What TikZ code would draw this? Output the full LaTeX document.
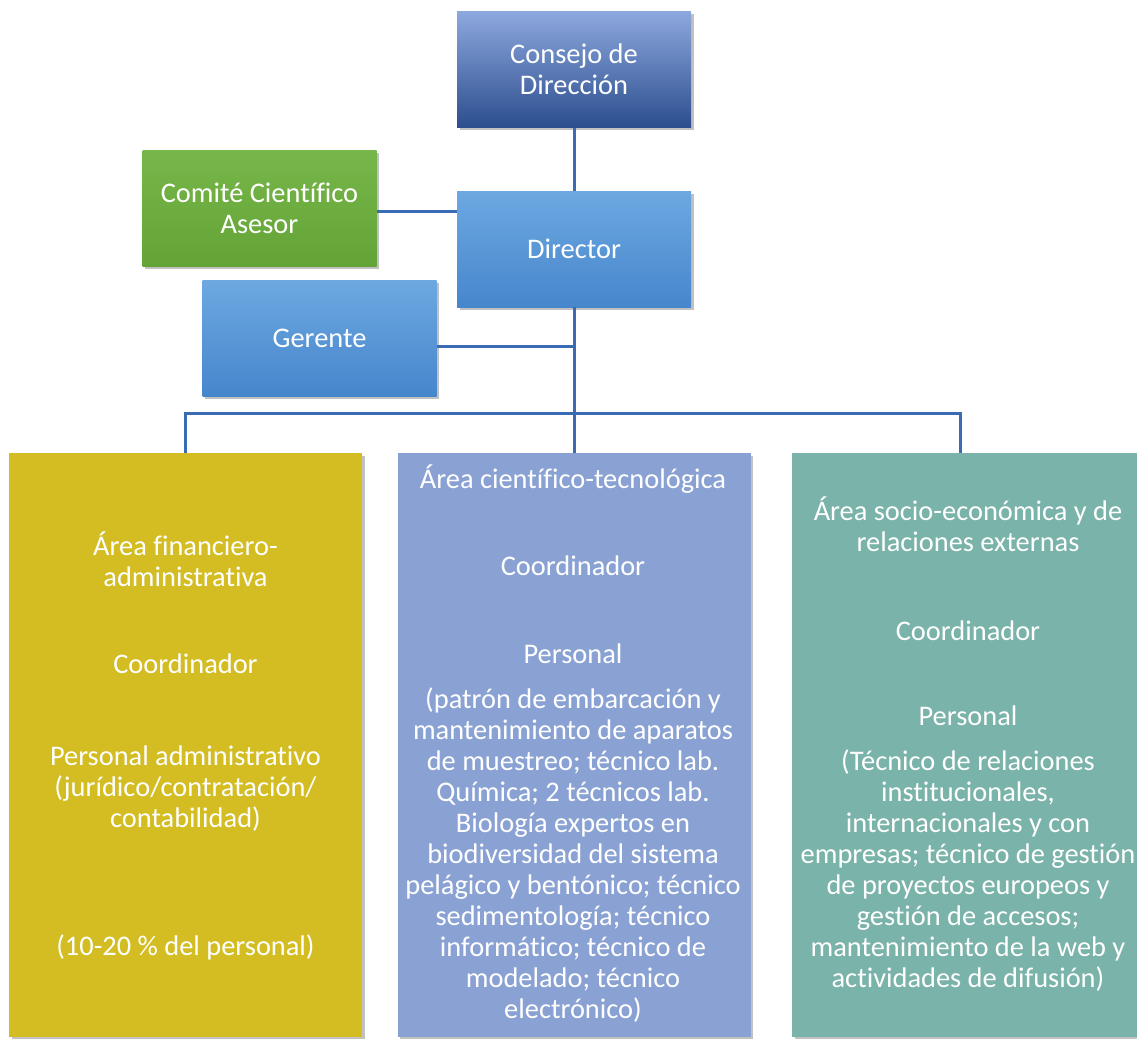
\documentclass[tikz,border=0pt]{standalone}
\usepackage{fontspec}
\setmainfont{Carlito}[Ligatures=NoCommon]
\usetikzlibrary{positioning,shadows}

\definecolor{linkblue}{HTML}{3A6BB3}
\definecolor{cdtop}{HTML}{8DA8DE}
\definecolor{cdbot}{HTML}{2C4E8E}
\definecolor{bltop}{HTML}{6DA8E1}
\definecolor{blbot}{HTML}{4686CC}
\definecolor{grtop}{HTML}{77B64A}
\definecolor{grbot}{HTML}{64A436}
\definecolor{goldcol}{HTML}{D3BD22}
\definecolor{lilacol}{HTML}{8AA2D3}
\definecolor{tealcol}{HTML}{7AB3A9}

\newcommand{\boxfont}{\fontsize{14.2}{15.5}\selectfont}

\tikzset{
  shade box/.style={drop shadow={shadow xshift=1.3pt, shadow yshift=-1.3pt, opacity=.35, fill=black!70}},
  topbox/.style={rectangle, minimum width=117pt, minimum height=58pt, inner sep=0pt,
    align=center, text=white, font=\boxfont, shade box},
  areabox/.style={rectangle, anchor=north, minimum width=176.5pt, minimum height=292pt,
    inner sep=0pt, fill=#1, shade box},
  % base = baseline of the last line
  txt/.style={anchor=base, align=center, inner sep=0pt, text=white, font=\boxfont},
  link/.style={draw=linkblue, line width=1.5pt}
}

\begin{document}
\begin{tikzpicture}[x=0.5pt,y=-0.5pt]
\useasboundingbox (0,0) rectangle (1137,1039);

% upper part of the chart
\node[topbox, top color=cdtop, bottom color=cdbot] (consejo) at (574,69.5) {Consejo de\\Dirección};
\node[topbox, top color=bltop, bottom color=blbot] (dir) at (574,249) {Director};
\node[topbox, top color=grtop, bottom color=grbot] (comite) at (259.5,208) {Comité Científico\\Asesor};
\node[topbox, top color=bltop, bottom color=blbot] (gerente) at (319.5,338) {Gerente};

% the three areas
\node[areabox=goldcol] (fin) at (185.5,453) {};
\node[areabox=lilacol] (cyt) at (574,453) {};
\node[areabox=tealcol] (soc) at (968.5,453) {};

% connectors
\coordinate (busR) at (960,413);
\draw[link] (consejo.south) -- (dir.north);
\draw[link] ([yshift=-1.6pt]comite.east) -- ([yshift=-1.6pt]comite.east -| dir.west);
\draw[link] ([yshift=-4pt]gerente.east) -- ([yshift=-4pt]gerente.east -| dir.south);
\draw[link] (dir.south) -- (cyt.north);
\draw[link] (fin.north) |- (busR) -- (busR |- soc.north);

% area texts
\node[txt] (fin-t) at (185.5,586) {Área financiero-\\administrativa};
\node[txt] (fin-c) at (185.5,673) {Coordinador};
\node[txt] (fin-p) at (185.5,827) {Personal administrativo\\(jurídico/contratación/\\contabilidad)};
\node[txt] (fin-n) at (185.5,955) {(10-20 \% del personal)};

\node[txt] (cyt-t) at (573,488) {Área científico-tecnológica};
\node[txt] (cyt-c) at (573,575) {Coordinador};
\node[txt] (cyt-p) at (573,663) {Personal};
\node[txt] (cyt-d) at (573,1018) {(patrón de embarcación y\\mantenimiento de aparatos\\de muestreo; técnico lab.\\Química; 2 técnicos lab.\\Biología expertos en\\biodiversidad del sistema\\pelágico y bentónico; técnico\\sedimentología; técnico\\informático; técnico de\\modelado; técnico\\electrónico)};

\node[txt] (soc-t) at (968,551) {Área socio-económica y de\\relaciones externas};
\node[txt] (soc-c) at (968,640) {Coordinador};
\node[txt] (soc-p) at (968,725) {Personal};
\node[txt] (soc-d) at (968,987) {(Técnico de relaciones\\institucionales,\\internacionales y con\\empresas; técnico de gestión\\de proyectos europeos y\\gestión de accesos;\\mantenimiento de la web y\\actividades de difusión)};
\end{tikzpicture}
\end{document}
